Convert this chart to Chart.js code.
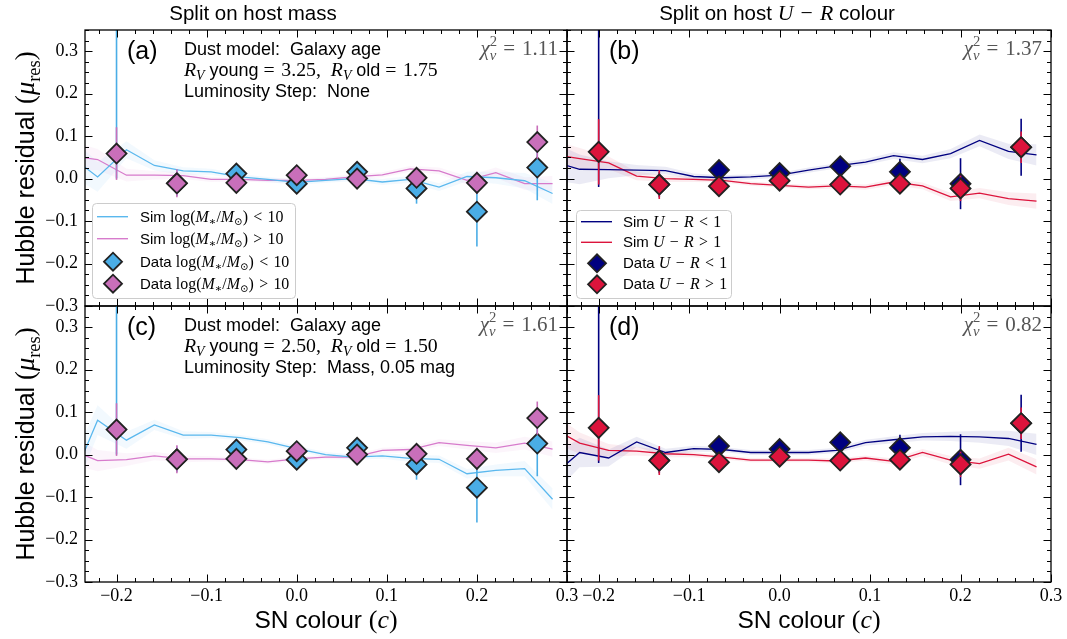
<!DOCTYPE html>
<html><head><meta charset="utf-8">
<script src="https://cdn.jsdelivr.net/npm/chart.js@4.4.1/dist/chart.umd.min.js"></script>
<style>
html,body{margin:0;padding:0;background:#fff;}
#wrap{position:relative;width:1067px;height:639px;background:#fff;}
#wrap canvas{position:absolute;left:0;top:0;}
</style></head>
<body><div id="wrap">
<canvas id="pa" width="1067" height="639"></canvas>
<canvas id="pb" width="1067" height="639"></canvas>
<canvas id="pc" width="1067" height="639"></canvas>
<canvas id="pd" width="1067" height="639"></canvas>
</div>
<script>
// ---------------- data ----------------
const simX = [-0.284,-0.253,-0.221,-0.189,-0.158,-0.126,-0.095,-0.063,-0.032,0.0,0.032,0.063,0.095,0.126,0.158,0.189,0.221,0.253,0.284];
const dataX = [-0.2,-0.133,-0.067,0.0,0.067,0.133,0.2,0.267];
const xTickValues = [-0.2,-0.1,0.0,0.1,0.2,0.3];
const yTickValues = [-0.3,-0.2,-0.1,0.0,0.1,0.2,0.3];

// panel (a): split on host mass, RV young 3.25 / old 1.75
const simMassLowA  = [0.03,0.056,0.004,0.068,0.031,0.018,0.016,0.004,-0.002,-0.009,-0.004,0.0,-0.008,-0.002,-0.020,0.005,0.002,-0.005,-0.035];
const simMassHighA = [0.05,0.054,0.045,0.008,0.008,0.007,-0.002,-0.002,-0.004,-0.004,-0.002,0.004,0.009,0.023,0.018,-0.004,0.014,-0.012,-0.012];
// panel (b): split on U-R
const simURLowB  = [0.05,0.042,0.022,0.021,0.020,0.019,0.005,0.002,0.004,0.008,0.020,0.030,0.039,0.054,0.045,0.059,0.090,0.064,0.056];
const simURHighB = [0.065,0.058,0.047,0.037,0.006,0.0,-0.002,-0.004,-0.012,-0.016,-0.020,-0.017,-0.020,-0.008,-0.017,-0.043,-0.034,-0.047,-0.053];
// panel (c): split on host mass, RV young 2.50 / old 1.50, mass step
const simMassLowC  = [-0.05,-0.080,0.081,0.034,0.070,0.046,0.046,0.040,0.030,0.014,0.0,-0.006,-0.003,-0.009,-0.011,-0.045,-0.037,-0.033,-0.105];
const simMassHighC = [0.01,0.013,-0.014,-0.012,-0.003,-0.010,-0.010,-0.012,-0.017,-0.010,-0.006,-0.006,0.010,0.012,0.028,0.022,0.016,0.027,0.013];
// panel (d): split on U-R
const simURLowD  = [-0.04,-0.054,0.005,-0.008,0.030,0.005,0.014,0.012,0.005,0.005,0.005,0.010,0.028,0.035,0.042,0.043,0.042,0.038,0.024];
const simURHighD = [0.08,0.066,0.027,0.010,0.008,0.002,0.0,-0.006,-0.013,-0.013,-0.013,-0.015,-0.008,-0.016,0.005,-0.013,-0.021,0.001,-0.029];
// simulation uncertainty half-widths
const bandLow  = [0.05,0.045,0.035,0.02,0.012,0.009,0.007,0.006,0.006,0.006,0.006,0.006,0.007,0.008,0.009,0.011,0.014,0.018,0.025];
const bandHigh = [0.04,0.035,0.025,0.015,0.01,0.008,0.006,0.005,0.005,0.005,0.005,0.006,0.006,0.007,0.008,0.01,0.012,0.015,0.018];

// observed data
const dataMassLow  = [0.40,-0.011,0.012,-0.012,0.016,-0.023,-0.078,0.026];
const errMassLow   = [0.40,0.030,0.015,0.015,0.021,0.036,0.082,0.077];
const dataMassHigh = [0.059,-0.011,-0.010,0.008,0.0,0.002,-0.010,0.086];
const errMassHigh  = [0.062,0.033,0.015,0.015,0.015,0.015,0.026,0.039];
const dataURLow  = [0.40,-0.014,0.020,0.013,0.029,0.016,-0.012,0.074];
const errURLow   = [0.42,0.030,0.015,0.015,0.015,0.031,0.060,0.067];
const dataURHigh = [0.063,-0.014,-0.018,-0.005,-0.014,-0.012,-0.023,0.074];
const errURHigh  = [0.077,0.034,0.015,0.015,0.015,0.015,0.030,0.037];

// ---------------- styling ----------------
const SANS = '"Liberation Sans", Arial, sans-serif';
const SERIF = '"Liberation Serif", "DejaVu Serif", serif';
const C_LB = '#4aade6', C_LB_LINE = '#5ab8ee';
const C_MG = '#c96fba', C_MG_LINE = '#d77bcc';
const C_NAVY = '#000080', C_RED = '#dc143c';
const W = 1067, H = 639;
const SP = '\u2004';

function fmt(v){ if (Math.abs(v) < 1e-9) return '0.0'; return (v<0?'\u2212':'') + Math.abs(v).toFixed(1); }
function rgba(hex, a){ const n=parseInt(hex.slice(1),16); return `rgba(${n>>16},${(n>>8)&255},${n&255},${a})`; }

function rich(ctx, segs, x, y, size, opt){
  opt = opt || {};
  const items = segs.map(s => {
    const sz = size * (s.sc || 1) * (s.f === 's' ? 1 : (opt.mathScale || 1.06));
    const font = (s.f === 'i' ? 'italic ' : '') + sz.toFixed(2) + 'px ' + (s.f === 's' ? SANS : SERIF);
    ctx.font = font;
    return {t:s.t, font, w: ctx.measureText(s.t).width, dy:(s.dy||0)*size, noAdv: !!s.noAdv};
  });
  let total = 0;
  items.forEach(it => { if (!it.noAdv) total += it.w; });
  ctx.save();
  ctx.translate(x, y);
  if (opt.rot) ctx.rotate(opt.rot);
  let cx = opt.align === 'center' ? -total/2 : (opt.align === 'right' ? -total : 0);
  ctx.fillStyle = opt.color || '#000';
  ctx.textBaseline = 'alphabetic';
  ctx.textAlign = 'left';
  items.forEach(it => { ctx.font = it.font; ctx.fillText(it.t, cx, it.dy); if (!it.noAdv) cx += it.w; });
  ctx.restore();
}

function massSegs(lead, op){
  return [{t:lead,f:'s'},{t:'log(',f:'r'},{t:'M',f:'i'},{t:'\u2217',f:'r',sc:0.7,dy:0.22},{t:'/',f:'r'},{t:'M',f:'i'},{t:'\u2299',f:'r',sc:0.65,dy:0.22},{t:')'+SP+op+SP+'10',f:'r'}];
}
function urSegs(lead, op){
  return [{t:lead,f:'s'},{t:'U',f:'i'},{t:SP+'\u2212'+SP,f:'r'},{t:'R',f:'i'},{t:SP+op+SP+'1',f:'r'}];
}
function chiSegs(v){
  return [{t:'\u03c7',f:'i'},{t:'2',f:'r',sc:0.7,dy:-0.42,noAdv:true},{t:'\u03bd',f:'i',sc:0.7,dy:0.25},{t:SP+'='+SP+v,f:'r'}];
}
function rvSegs(a,b){
  return [{t:'R',f:'i'},{t:'V',f:'i',sc:0.7,dy:0.2},{t:' young ',f:'s'},{t:'='+SP+a+',  ',f:'r'},{t:'R',f:'i'},{t:'V',f:'i',sc:0.7,dy:0.2},{t:' old ',f:'s'},{t:'='+SP+b,f:'r'}];
}
const yLabelSegs = [{t:'Hubble residual ',f:'s'},{t:'(',f:'r'},{t:'\u03bc',f:'i'},{t:'res',f:'r',sc:0.7,dy:0.22},{t:')',f:'r'}];
const xLabelSegs = [{t:'SN colour ',f:'s'},{t:'(',f:'r'},{t:'c',f:'i'},{t:')',f:'r'}];

function makeDeco(cfg){
  return {
    id:'deco_'+cfg.id,
    beforeDatasetDraw(chart, args){
      const ds = chart.data.datasets[args.index];
      if (!ds.yErr) return;
      const ctx = chart.ctx, a = chart.chartArea, xs = chart.scales.x, ys = chart.scales.y;
      ctx.save();
      ctx.beginPath(); ctx.rect(a.left, a.top, a.right-a.left, a.bottom-a.top); ctx.clip();
      ctx.strokeStyle = ds.errColor; ctx.lineWidth = 1.6;
      ds.data.forEach((p,i) => {
        const px = xs.getPixelForValue(p.x);
        ctx.beginPath();
        ctx.moveTo(px, ys.getPixelForValue(p.y - ds.yErr[i]));
        ctx.lineTo(px, ys.getPixelForValue(p.y + ds.yErr[i]));
        ctx.stroke();
      });
      ctx.restore();
    },
    afterDraw(chart){
      const ctx = chart.ctx, a = chart.chartArea, xs = chart.scales.x, ys = chart.scales.y;
      const L = a.left, T = a.top, R = a.right, B = a.bottom;
      ctx.save();
      ctx.strokeStyle = '#000'; ctx.lineWidth = 1;
      const seg = (x1,y1,x2,y2) => { ctx.beginPath(); ctx.moveTo(x1,y1); ctx.lineTo(x2,y2); ctx.stroke(); };
      for (let k=-15; k<=15; k++){
        const v = k*0.02; if (v < xs.min - 1e-9 || v > xs.max + 1e-9) continue;
        const len = (k % 5 === 0) ? 7.5 : 4;
        const px = Math.round(xs.getPixelForValue(v)) + 0.5;
        seg(px, B, px, B-len); seg(px, T, px, T+len);
      }
      for (let k=-12; k<=14; k++){
        const v = k*0.025; if (v < ys.min - 1e-9 || v > ys.max + 1e-9) continue;
        const len = (k % 4 === 0) ? 7.5 : 4;
        const py = Math.round(ys.getPixelForValue(v)) + 0.5;
        seg(L, py, L+len, py); seg(R, py, R-len, py);
      }
      ctx.lineWidth = 1.3;
      ctx.strokeRect(L, T, R-L, B-T);
      ctx.restore();
      if (cfg.legend){
        const lg = cfg.legend;
        const bx = L + lg.dx, by = T + lg.dy;
        ctx.save();
        ctx.beginPath();
        ctx.roundRect(bx+0.5, by+0.5, lg.w, lg.h, 4);
        ctx.fillStyle = 'rgba(255,255,255,0.8)'; ctx.fill();
        ctx.strokeStyle = '#cccccc'; ctx.lineWidth = 1; ctx.stroke();
        lg.rows.forEach(r => {
          const cy = by + r.cy;
          if (r.kind === 'line'){
            ctx.strokeStyle = r.color; ctx.lineWidth = 1.4;
            ctx.beginPath(); ctx.moveTo(bx+5, cy); ctx.lineTo(bx+36, cy); ctx.stroke();
          } else {
            ctx.fillStyle = r.color; ctx.strokeStyle = '#222'; ctx.lineWidth = 1.8;
            Chart.helpers.drawPoint(ctx, {pointStyle:'rectRot', radius:9, borderWidth:1.8, rotation:0}, bx+21, cy);
          }
          rich(ctx, r.segs, bx+lg.tx, cy+5, 15);
        });
        ctx.restore();
      }
      ctx.save(); ctx.fillStyle = '#000'; ctx.font = '25px ' + SANS; ctx.textBaseline = 'alphabetic';
      ctx.fillText(cfg.letter, L+42, T+29); ctx.restore();
      if (cfg.notes){
        cfg.notes.forEach((segs, i) => rich(ctx, segs, L+99, T+25+21*i, 18, {mathScale:1.1}));
      }
      rich(ctx, chiSegs(cfg.chi), R-9, T+24.5, 21, {align:'right', color:'#555555', mathScale:1});
      if (cfg.title) rich(ctx, cfg.title.segs, cfg.title.cx, 20, 20.5, {align:'center'});
      if (cfg.ylabel) rich(ctx, yLabelSegs, 34, (T+B)/2, 25, {align:'center', rot:-Math.PI/2});
      if (cfg.xlabel) rich(ctx, xLabelSegs, (L+R)/2, 628, 24.5, {align:'center'});
    }
  };
}

function panel(canvasId, cfg){
  const A = cfg.area;
  const isLeft = A.left < 200, isBottom = A.top > 200;
  const xH = isBottom ? 40 : 0;
  const datasets = [];
  cfg.sims.forEach(s => {
    datasets.push({type:'line', data: simX.map((x,i)=>({x, y: s.y[i] + s.band[i]})), borderWidth:0, pointRadius:0, fill:'+1', backgroundColor: rgba(s.color, 0.08), order: 50});
    datasets.push({type:'line', data: simX.map((x,i)=>({x, y: s.y[i] - s.band[i]})), borderWidth:0, pointRadius:0, fill:false, backgroundColor:'rgba(0,0,0,0)', order: 50});
  });
  cfg.sims.forEach(s => {
    datasets.push({type:'line', data: simX.map((x,i)=>({x, y: s.y[i]})), borderColor: s.color, borderWidth:1.3, pointRadius:0, fill:false, tension:0, order: 40});
  });
  cfg.data.forEach((d,k) => {
    datasets.push({type:'line', data: dataX.map((x,i)=>({x, y: d.y[i]})), yErr: d.err, errColor: d.color,
      showLine:false, pointStyle:'rectRot', pointRadius:10, pointHoverRadius:10,
      pointBackgroundColor: d.color, pointBorderColor:'#222', pointBorderWidth:1.8, order: 20 - 10*k});
  });
  return new Chart(document.getElementById(canvasId), {
    type:'line',
    data:{datasets},
    options:{
      responsive:false, animation:false, events:[],
      layout:{autoPadding:false, padding:{left: isLeft?0:A.left, top:A.top, right: W-A.right, bottom: H-A.bottom-xH}},
      plugins:{legend:{display:false}, tooltip:{enabled:false}},
      scales:{
        x:{type:'linear', min:-0.235, max:0.3,
          afterBuildTicks: s => { s.ticks = xTickValues.map(v=>({value:v})); },
          afterFit: s => { s.height = xH; },
          grid:{display:false, drawTicks:false}, border:{display:false},
          ticks:{display:isBottom, autoSkip:false, maxRotation:0, padding:3, color:'#000', font:{family:SERIF, size:18}, callback: v => fmt(v)}},
        y:{type:'linear', min:-0.3, max:0.35,
          afterBuildTicks: s => { s.ticks = yTickValues.map(v=>({value:v})); },
          afterFit: s => { s.width = isLeft ? A.left : 0; },
          grid:{display:false, drawTicks:false}, border:{display:false},
          ticks:{display:isLeft, autoSkip:false, padding:7, color:'#000', font:{family:SERIF, size:18}, callback: v => fmt(v)}}
      }
    },
    plugins:[makeDeco(cfg)]
  });
}

const massLegend = {dx:7, dy:173, w:203, h:95, tx:48, rows:[
  {kind:'line', color:C_LB_LINE, cy:13.7, segs: massSegs('Sim ', '<')},
  {kind:'line', color:C_MG_LINE, cy:35.7, segs: massSegs('Sim ', '>')},
  {kind:'diamond', color:C_LB, cy:58.7, segs: massSegs('Data ', '<')},
  {kind:'diamond', color:C_MG, cy:80.7, segs: massSegs('Data ', '>')}]};
const urLegend = {dx:9, dy:180, w:155, h:88, tx:47, rows:[
  {kind:'line', color:C_NAVY, cy:11.7, segs: urSegs('Sim ', '<')},
  {kind:'line', color:C_RED, cy:32.3, segs: urSegs('Sim ', '>')},
  {kind:'diamond', color:C_NAVY, cy:53.3, segs: urSegs('Data ', '<')},
  {kind:'diamond', color:C_RED, cy:74.3, segs: urSegs('Data ', '>')}]};

panel('pa', {id:'a', area:{left:85, top:30, right:567, bottom:306}, letter:'(a)', chi:'1.11',
  title:{cx:253, segs:[{t:'Split on host mass',f:'s'}]}, ylabel:true,
  notes:[[{t:'Dust model:  Galaxy age',f:'s'}], rvSegs('3.25','1.75'), [{t:'Luminosity Step:  None',f:'s'}]],
  legend: massLegend,
  sims:[{y:simMassLowA, band:bandLow, color:C_LB_LINE},{y:simMassHighA, band:bandHigh, color:C_MG_LINE}],
  data:[{y:dataMassLow, err:errMassLow, color:C_LB},{y:dataMassHigh, err:errMassHigh, color:C_MG}]});

panel('pb', {id:'b', area:{left:567, top:30, right:1051, bottom:306}, letter:'(b)', chi:'1.37',
  title:{cx:777, segs:[{t:'Split on host ',f:'s'},{t:'U',f:'i'},{t:SP+'\u2212'+SP,f:'r'},{t:'R',f:'i'},{t:' colour',f:'s'}]},
  legend: urLegend,
  sims:[{y:simURLowB, band:bandLow, color:C_NAVY},{y:simURHighB, band:bandHigh, color:C_RED}],
  data:[{y:dataURLow, err:errURLow, color:C_NAVY},{y:dataURHigh, err:errURHigh, color:C_RED}]});

panel('pc', {id:'c', area:{left:85, top:306, right:567, bottom:582}, letter:'(c)', chi:'1.61', ylabel:true, xlabel:true,
  notes:[[{t:'Dust model:  Galaxy age',f:'s'}], rvSegs('2.50','1.50'), [{t:'Luminosity Step:  Mass, 0.05 mag',f:'s'}]],
  sims:[{y:simMassLowC, band:bandLow, color:C_LB_LINE},{y:simMassHighC, band:bandHigh, color:C_MG_LINE}],
  data:[{y:dataMassLow, err:errMassLow, color:C_LB},{y:dataMassHigh, err:errMassHigh, color:C_MG}]});

panel('pd', {id:'d', area:{left:567, top:306, right:1051, bottom:582}, letter:'(d)', chi:'0.82', xlabel:true,
  sims:[{y:simURLowD, band:bandLow, color:C_NAVY},{y:simURHighD, band:bandHigh, color:C_RED}],
  data:[{y:dataURLow, err:errURLow, color:C_NAVY},{y:dataURHigh, err:errURHigh, color:C_RED}]});
</script>
</body></html>
